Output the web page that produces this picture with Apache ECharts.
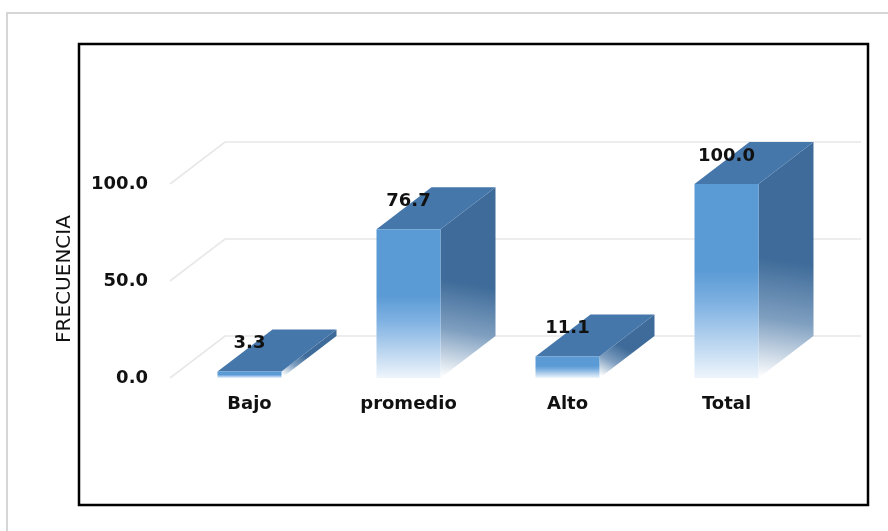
<!DOCTYPE html>
<html>
<head>
<meta charset="utf-8">
<script src="https://cdn.jsdelivr.net/npm/echarts@6/dist/echarts.min.js"></script>
<style>html,body{margin:0;padding:0;background:#fff}#c{width:888px;height:531px}</style>
</head>
<body>
<div id="c"></div>
<script>
const categories = ['Bajo', 'promedio', 'Alto', 'Total'];
const values = [3.3, 76.7, 11.1, 100.0];
const yTicks = [0, 50, 100];
const axisTitle = 'FRECUENCIA';

const DX = 55, DY = -42, HALF_W = 32;
const FONT = '"DejaVu Sans", sans-serif';

const chart = echarts.init(document.getElementById('c'));
const option = {
  animation: false,
  backgroundColor: '#fff',
  grid: { left: 170, right: 82, top: 184, bottom: 153 },
  graphic: [
    { type: 'rect', z: -10, shape: { x: 7, y: 13, width: 900, height: 600 },
      style: { fill: '#fff', stroke: '#d6d6d6', lineWidth: 2 } },
    { type: 'rect', z: 100, shape: { x: 79, y: 44, width: 789, height: 461 },
      style: { fill: null, stroke: '#000', lineWidth: 2.5 } },
    { type: 'text', x: 65, y: 279, rotation: Math.PI / 2,
      style: { text: axisTitle, font: '20px ' + FONT, fill: '#111', align: 'center', verticalAlign: 'middle' } }
  ],
  xAxis: {
    type: 'category', data: categories,
    axisLine: { show: false }, axisTick: { show: false }, splitLine: { show: false },
    axisLabel: { margin: 17, color: '#111', fontFamily: FONT, fontWeight: 'bold', fontSize: 18 }
  },
  yAxis: {
    type: 'value', min: 0, max: 100, interval: 50,
    axisLine: { show: false }, axisTick: { show: false }, splitLine: { show: false },
    axisLabel: { margin: 22, color: '#111', fontFamily: FONT, fontWeight: 'bold', fontSize: 18,
      formatter: v => v.toFixed(1) }
  },
  series: [
    {
      type: 'custom', z: 1, silent: true,
      data: yTicks.map(v => [0, v]),
      renderItem: function (params, api) {
        const v = api.value(1);
        const p = api.coord([0, v]);
        const bw = api.size([1, 0])[0];
        const left = p[0] - bw / 2;
        const right = left + bw * categories.length;
        return {
          type: 'polyline',
          shape: { points: [[left, p[1]], [left + DX, p[1] + DY], [right + DX, p[1] + DY]] },
          style: { stroke: '#e8e8e8', lineWidth: 1.6, fill: null }
        };
      }
    },
    {
      type: 'custom', z: 2,
      data: values.map((v, i) => [i, v]),
      renderItem: function (params, api) {
        const idx = api.value(0), val = api.value(1);
        const t = api.coord([idx, val]);
        const b = api.coord([idx, 0]);
        const L = t[0] - HALF_W, R = t[0] + HALF_W, T = t[1], B = b[1];
        return {
          type: 'group',
          children: [
            {
              type: 'polygon',
              shape: { points: [[R, T], [R + DX, T + DY], [R + DX, B + DY], [R, B]] },
              style: {
                fill: new echarts.graphic.LinearGradient(0.7, 0, 0.1, 1, [
                  { offset: 0, color: '#3e6b99' },
                  { offset: 0.5, color: '#3e6b99' },
                  { offset: 0.75, color: '#7f9fc0' },
                  { offset: 1, color: '#ffffff' }
                ])
              }
            },
            {
              type: 'polygon',
              shape: { points: [[L, T], [R, T], [R + DX, T + DY], [L + DX, T + DY]] },
              style: { fill: '#4677ab' }
            },
            {
              type: 'rect',
              shape: { x: L, y: T, width: R - L, height: Math.max(B - T, 0.5) },
              style: {
                fill: new echarts.graphic.LinearGradient(0, 0, 0, 1, [
                  { offset: 0, color: '#5b9bd5' },
                  { offset: 0.45, color: '#5b9bd5' },
                  { offset: 0.62, color: '#80b2e2' },
                  { offset: 1, color: '#eef5fc' }
                ])
              }
            },
            {
              type: 'text', x: t[0], y: T - 28,
              style: { text: val.toFixed(1), font: 'bold 18px ' + FONT, fill: '#111',
                align: 'center', verticalAlign: 'middle' }
            }
          ]
        };
      }
    }
  ]
};
chart.setOption(option);
</script>
</body>
</html>
